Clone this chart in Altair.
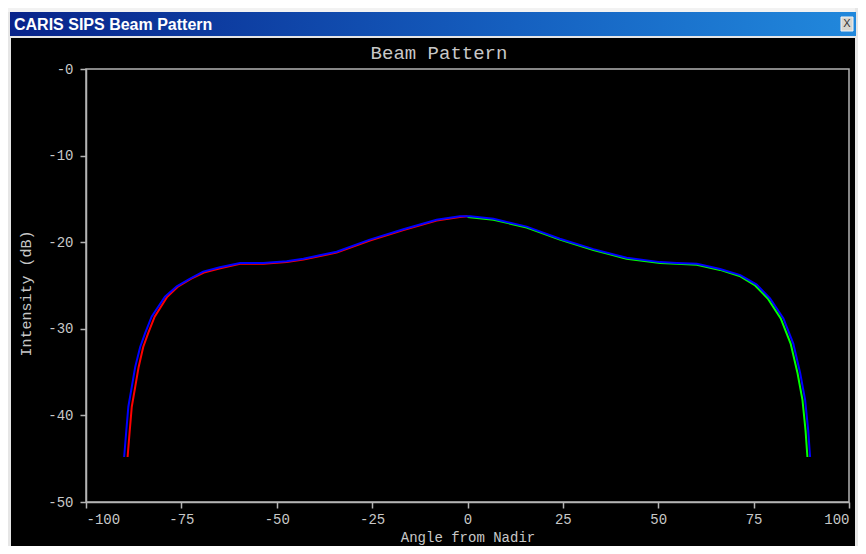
import altair as alt
import pandas as pd

# ---- data ----
blue_angle = [-90.0, -89.5, -88.9, -88.0, -87.1, -85.8, -84.5, -82.8, -79.3, -76.2, -72.7,
              -69.3, -64.9, -59.6, -53.5, -47.4, -43.0, -34.3, -25.6, -16.8, -8.1, -2.0,
              0.7, 6.8, 15.5, 24.2, 33.0, 41.7, 50.5, 54.8, 60.1, 66.2, 71.5, 75.8, 79.3,
              82.8, 85.4, 87.2, 88.5, 89.3, 89.8]
blue_db = [-44.8, -42.1, -39.0, -36.7, -34.4, -32.1, -30.5, -28.6, -26.3, -25.1, -24.2,
           -23.4, -22.9, -22.4, -22.4, -22.2, -21.9, -21.1, -19.7, -18.5, -17.4, -17.0,
           -17.0, -17.3, -18.2, -19.6, -20.8, -21.8, -22.3, -22.4, -22.5, -23.1, -23.8, -24.9, -26.5,
           -28.8, -31.7, -35.1, -38.2, -41.7, -44.8]

red_angle = [-89.1, -88.6, -88.0, -87.1, -86.2, -85.0, -83.7, -82.0, -78.7, -75.8, -72.4,
             -69.1, -64.8, -59.6, -53.5, -47.4, -43.0, -34.3, -25.6, -16.8, -8.1, -2.0, 0.0]
red_db = [-44.8, -42.1, -39.0, -36.7, -34.4, -32.1, -30.5, -28.6, -26.3, -25.1, -24.2,
          -23.5, -23.0, -22.5, -22.5, -22.3, -22.0, -21.2, -19.8, -18.6, -17.5, -17.1, -17.0]

green_angle = [0.0, 6.8, 15.5, 24.2, 33.0, 41.7, 50.5, 54.8, 60.1, 66.2, 71.3, 75.4,
               78.7, 82.1, 84.7, 86.5, 87.8, 88.6, 89.1]
green_db = [-17.1, -17.4, -18.3, -19.7, -20.9, -21.9, -22.4, -22.5, -22.6, -23.2, -23.9, -25.0,
            -26.5, -28.8, -31.7, -35.1, -38.2, -41.7, -44.8]

x_ticks = [-100, -75, -50, -25, 0, 25, 50, 75, 100]
y_ticks = [-50, -40, -30, -20, -10, 0]

window_title = "CARIS SIPS Beam Pattern"
chart_title = "Beam Pattern"
x_title = "Angle from Nadir"
y_title = "Intensity (dB)"

# ---- layout ----
W, H = 763, 433
FONT = "Liberation Mono"
GREY = "#c8c8c8"
AXIS = "#b4b4b4"
CHROME = "#e6e6e6"

one = alt.Data(values=[{"a": 1}])


def box(x1, x2, y1, y2, **kw):
    return alt.Chart(one).mark_rect(**kw).encode(
        x=alt.value(x1), x2=alt.value(x2), y=alt.value(y1), y2=alt.value(y2))


left_strip = box(-78, -75, -61, 477, fill=CHROME)
top_strip = box(-78, 772, -61, -57, fill="#f2f2f2")
sep_strip = box(-78, 772, -33, -31, fill=CHROME)
right_strip = box(769, 772, -61, 477, fill=CHROME)

titlebar = alt.Chart(one).mark_rect(
    fill=alt.Gradient(gradient="linear",
                      stops=[alt.GradientStop(color="#08238a", offset=0),
                             alt.GradientStop(color="#1560c0", offset=0.6),
                             alt.GradientStop(color="#2188dc", offset=1)],
                      x1=0, x2=1, y1=0, y2=0)
).encode(x=alt.value(-76), x2=alt.value(770), y=alt.value(-57), y2=alt.value(-33))

wtitle = alt.Chart(one).mark_text(
    text=window_title, font="Liberation Sans", fontWeight="bold", fontSize=16,
    color="white", align="left", baseline="alphabetic"
).encode(x=alt.value(-72), y=alt.value(-39))

close_btn = box(755, 767, -52, -38, fill="#d8d6d0", stroke="#f4f4f4", strokeWidth=1)
close_x = alt.Chart(one).mark_text(
    text="X", font="Liberation Sans", fontSize=11, color="#333333",
    align="center", baseline="middle"
).encode(x=alt.value(761), y=alt.value(-45))

ptitle = alt.Chart(one).mark_text(
    text=chart_title, font=FONT, fontSize=19, color=GREY, align="center", baseline="middle"
).encode(x=alt.value(353), y=alt.value(-16))

frame = box(0, W, 0, H, fill=None, stroke=AXIS, strokeWidth=1.5)

xscale = alt.Scale(domain=[-100, 100], nice=False, zero=False)
yscale = alt.Scale(domain=[-50, 0], nice=False, zero=False)

red_df = pd.DataFrame({"angle": red_angle, "db": red_db})
green_df = pd.DataFrame({"angle": green_angle, "db": green_db})
blue_df = pd.DataFrame({"angle": blue_angle, "db": blue_db})

x_axis = alt.Axis(values=x_ticks, title=x_title, grid=False,
                  labelExpr="datum.value < 0 ? '-' + abs(datum.value) : '' + datum.value",
                  labelPadding=4, titleFontSize=14,
                  titleY=35, titleBaseline="middle")
y_axis = alt.Axis(values=y_ticks, title=y_title, grid=False,
                  labelExpr="'-' + abs(datum.value)",
                  titleX=-61, titleY=224, titleAngle=-90, titleAlign="center",
                  titleBaseline="middle")

red = alt.Chart(red_df).mark_line(color="#ff0000", strokeWidth=2).encode(
    x=alt.X("angle:Q", scale=xscale, axis=x_axis),
    y=alt.Y("db:Q", scale=yscale, axis=y_axis),
    order="angle:Q")
green = alt.Chart(green_df).mark_line(color="#00ff00", strokeWidth=2).encode(
    x=alt.X("angle:Q", scale=xscale),
    y=alt.Y("db:Q", scale=yscale),
    order="angle:Q")
blue = alt.Chart(blue_df).mark_line(color="#0000ff", strokeWidth=2).encode(
    x=alt.X("angle:Q", scale=xscale),
    y=alt.Y("db:Q", scale=yscale),
    order="angle:Q")

chart = alt.layer(red, green, blue, left_strip, top_strip, sep_strip, right_strip,
                  titlebar, wtitle, close_btn, close_x, ptitle, frame).properties(
    width=W, height=H,
    autosize=alt.AutoSizeParams(type="none"),
    padding={"left": 78, "top": 61, "right": 9, "bottom": 44},
    background="black",
).configure_view(stroke=None).configure_axis(
    domainColor=AXIS, domainWidth=1.5, tickColor=AXIS, tickWidth=1.5, tickSize=6,
    labelColor=GREY, labelFont=FONT, labelFontSize=14, labelPadding=7,
    titleColor=GREY, titleFont=FONT, titleFontSize=15, titleFontWeight="normal",
)

chart.save("out.html", embed_options={"renderer": "svg", "actions": False})
